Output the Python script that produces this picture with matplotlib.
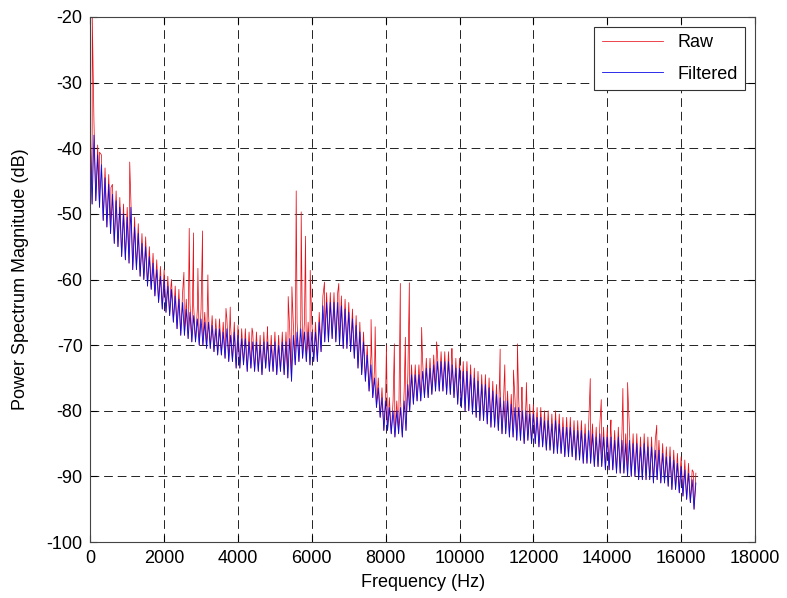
import numpy as np
import pandas as pd
import matplotlib
matplotlib.use('Agg')
import matplotlib.pyplot as plt

plt.rcParams['font.family'] = ['Liberation Sans', 'DejaVu Sans']
plt.rcParams['axes.unicode_minus'] = False

# filtered spectrum: local maxima at 0, 100, ... 16400 Hz (dB)
filt_hi_freq = list(range(0, 16500, 100))
filt_hi_db = [
    -38.5, -38, -41, -42.5, -44.5, -45.5, -47, -48, -49, -50,
    -50.5, -49, -52, -53, -54.5, -55, -56.5, -57.5, -58.5, -59.5,
    -60, -61, -61.5, -62.5, -63, -63.5, -64.5, -65, -65.5, -66,
    -66, -66.5, -66.5, -67, -67.5, -67.5, -68, -67.5, -68.5, -68,
    -68.5, -69, -69, -69.5, -69.5, -69.5, -70, -69.5, -69.5, -70,
    -69.5, -70, -69.5, -69.5, -69, -68.5, -68, -67.5, -68, -68,
    -68, -68, -66.5, -64, -63.5, -63.5, -63.5, -63.5, -64, -64.5,
    -65, -66, -67, -68, -69.5, -71.5, -73, -75, -76.5, -78,
    -78.5, -79.5, -80, -80, -79.5, -78.5, -76, -74.5, -74.5, -74.5,
    -74, -73.5, -73.5, -73, -72.5, -72.5, -72.5, -72.5, -73, -73.5,
    -73.5, -74, -74, -74.5, -75, -75.5, -76, -76, -76.5, -77,
    -77.5, -78, -78.5, -78.5, -79, -79.5, -79.5, -80, -80, -80.5,
    -80.5, -81, -81, -81.5, -81.5, -82, -81.5, -82, -82.5, -82.5,
    -82.5, -83, -83, -83, -83.5, -83, -83.5, -84, -83.5, -84,
    -84, -84, -84.5, -84, -84.5, -85, -84.5, -85, -85, -85.5,
    -85, -85.5, -85.5, -86, -86, -86.5, -87, -87, -87.5, -88,
    -88.5, -89, -89.5, -90.5, -91,
]

# filtered spectrum: local minima at 50, 150, ... 16350 Hz (dB)
filt_lo_freq = list(range(50, 16400, 100))
filt_lo_db = [
    -48.5, -48, -49, -51, -52, -53, -54.5, -55, -56.5, -57,
    -57.5, -58.5, -58.5, -59.5, -60, -61, -61.5, -62.5, -63.5, -64.5,
    -65, -65.5, -66.5, -67.5, -68.5, -68.5, -69, -69.5, -69.5, -70,
    -70, -70.5, -70.5, -71, -71.5, -71.5, -72, -72.5, -72.5, -73.5,
    -73.5, -73, -74, -73.5, -74, -74, -74.5, -73.5, -74, -74,
    -74.5, -74, -74.5, -75, -75.5, -73, -72.5, -72, -72.5, -73,
    -72.5, -72.5, -71, -69.5, -69.5, -69, -69.5, -70, -70.5, -70.5,
    -71, -72, -73.5, -74.5, -75.5, -77, -78, -79.5, -81, -83,
    -83, -83.5, -84, -83.5, -84, -83, -80, -79, -78.5, -78.5,
    -78, -78, -77.5, -77, -77, -77, -77.5, -77.5, -78, -79,
    -79.5, -80, -80, -80.5, -81, -81.5, -81.5, -82, -82.5, -82.5,
    -83, -83.5, -83.5, -84, -84, -84.5, -84.5, -85, -84.5, -85,
    -85, -85.5, -85.5, -86, -86, -86.5, -86.5, -86.5, -87, -87,
    -87, -87.5, -87.5, -88, -88, -88, -88.5, -88.5, -88.5, -89,
    -89, -89, -89.5, -89.5, -89.5, -90, -90, -90, -90.5, -90.5,
    -90.5, -90.5, -91, -90.5, -91, -91, -91.5, -92, -92, -92.5,
    -93, -93.5, -94, -95,
]

# raw spectrum: local maxima at 0, 100, ... 16400 Hz (dB); its minima follow the filtered ones
raw_hi_freq = list(range(0, 16500, 100))
raw_hi_db = [
    -36, -36, -39.5, -41, -43, -44, -45.5, -46.5, -47.5, -48.5,
    -49, -48, -50.5, -51.5, -53, -53.5, -55, -56, -57, -58,
    -58.5, -59.5, -60, -61, -61.5, -62, -63, -63.5, -64, -64.5,
    -64.5, -65, -65, -65.5, -66, -66, -66.5, -66, -67, -66.5,
    -67, -67.5, -67.5, -68, -68, -68, -68.5, -68, -68, -68.5,
    -68, -68.5, -68, -68, -67.5, -67, -66.5, -66, -66.5, -66.5,
    -66.5, -66.5, -65, -62.5, -62, -62, -62, -62, -62.5, -63,
    -63.5, -64.5, -65.5, -66.5, -68, -70, -71.5, -73.5, -75, -76.5,
    -77, -78, -78.5, -78.5, -78, -77, -74.5, -73, -73, -73,
    -72.5, -72, -72, -71.5, -71, -71, -71, -71, -71.5, -72,
    -72, -72.5, -72.5, -73, -73.5, -74, -74.5, -74.5, -75, -75.5,
    -76, -76.5, -77, -77, -77.5, -78, -78, -78.5, -78.5, -79,
    -79, -79.5, -79.5, -80, -80, -80.5, -80, -80.5, -81, -81,
    -81, -81.5, -81.5, -81.5, -82, -81.5, -82, -82.5, -82, -82.5,
    -82.5, -82.5, -83, -82.5, -83, -83.5, -83, -83.5, -83.5, -84,
    -83.5, -84, -84, -84.5, -84.5, -85, -85.5, -85.5, -86, -86.5,
    -87, -87.5, -88, -89, -89.5,
]

# narrow peaks in the raw spectrum (Hz, dB)
spike_freq = [54, 250, 560, 910, 1068, 2180, 2536, 2680, 2797, 2915,
              3040, 3185, 3675, 3790, 4380, 4800, 5360, 5460, 5577, 5712,
              5829, 5956, 6343, 6730, 7604, 7715, 8020, 8235, 8397, 8533,
              8641, 8973, 9378, 9794, 11100, 11225, 11460, 11568, 11690, 11810,
              13540, 13838, 14100, 14423, 14550, 15340, 16330]
spike_db = [-20, -40.6, -46, -50.3, -42.1, -61.3, -58.9, -52.2, -52.9, -58.3,
            -52.6, -59.3, -64.4, -64.2, -67.4, -67.2, -62.6, -61.1, -46.5, -49.7,
            -53.4, -58.6, -60.4, -60.6, -66.1, -67.2, -70, -69.8, -60.6, -68.8,
            -60.5, -67.3, -69.5, -70.5, -70.6, -73, -73.8, -69.8, -76.4, -75.7,
            -75.1, -78.3, -81.4, -76.6, -75.7, -82.2, -89.3]

filt = pd.concat([
    pd.DataFrame({'f': filt_hi_freq, 'db': filt_hi_db}),
    pd.DataFrame({'f': filt_lo_freq, 'db': filt_lo_db}),
]).sort_values('f')

raw = pd.concat([
    pd.DataFrame({'f': raw_hi_freq, 'db': raw_hi_db}),
    pd.DataFrame({'f': filt_lo_freq, 'db': filt_lo_db}),
    pd.DataFrame({'f': spike_freq, 'db': spike_db}),
]).sort_values('f')

fig = plt.figure(figsize=(7.87, 5.98), dpi=100)
ax = fig.add_axes([0.1147, 0.0936, 0.8446, 0.878])

ax.plot(raw['f'], raw['db'], color='#e8101a', lw=0.55, label='Raw')
ax.plot(filt['f'], filt['db'], color='#0a0ae6', lw=0.6, label='Filtered')

ax.set_xlim(0, 18000)
ax.set_ylim(-100, -20)
ax.set_xticks(np.arange(0, 18001, 2000))
ax.set_yticks(np.arange(-100, -19, 10))
ax.grid(True, linestyle=(0, (9, 5)), color='#222222', lw=0.7)
ax.tick_params(direction='in', top=True, right=True, length=5, labelsize=13, pad=5.5)
for s in ax.spines.values():
    s.set_color('#444444')

ax.set_xlabel('Frequency (Hz)', fontsize=13, labelpad=5)
ax.set_ylabel('Power Spectrum Magnitude (dB)', fontsize=13)
ax.yaxis.set_label_coords(-0.092, 0.5)

leg = ax.legend(loc='upper right', fancybox=False, framealpha=1, edgecolor='#333333',
                fontsize=13, handlelength=3.4, borderaxespad=0.55, labelspacing=0.8)
leg.get_frame().set_linewidth(0.8)

fig.savefig('out.png', dpi=100)
